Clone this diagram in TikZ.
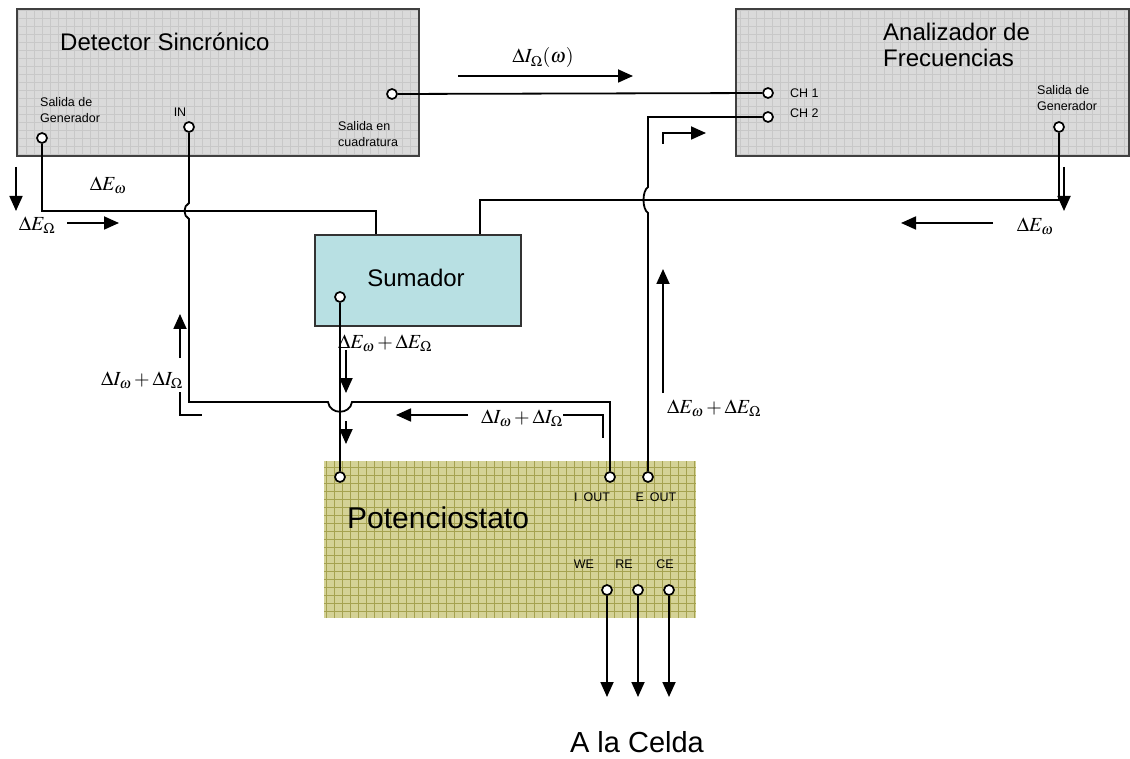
\documentclass[tikz,border=0pt]{standalone}
\usepackage{mathptmx}
\usepackage[no-math]{fontspec}
\setmainfont{Liberation Sans}
\usetikzlibrary{arrows.meta}

\definecolor{grisfondo}{RGB}{218,218,218}
\definecolor{grisreja}{RGB}{200,200,200}
\definecolor{olivafondo}{RGB}{212,210,150}
\definecolor{olivareja}{RGB}{165,162,80}
\definecolor{celeste}{RGB}{184,224,227}

\tikzset{
  equipo/.style={anchor=north west,inner sep=0pt},
  rejilla/.style={path picture={\draw[#1,line width=0.7pt,step=8pt]
      (path picture bounding box.south west) grid (path picture bounding box.north east);}},
  port/.style={circle,draw,fill=white,line width=1.7pt,inner sep=0pt,minimum size=10pt},
  cable/.style={line width=1.8pt},
  flecha/.style={line width=1.8pt,-{Triangle[length=15pt,width=13pt]}},
  rotulo/.style={font=\fontsize{12.5}{16}\selectfont,align=left,inner sep=0pt},
  titulo/.style={font=\fontsize{24}{26}\selectfont,align=left,inner sep=0pt},
  senal/.style={font=\fontsize{20}{22}\selectfont,inner sep=0pt},
}

\begin{document}
\begin{tikzpicture}[x=1pt,y=-1pt]
  \useasboundingbox[fill=white] (0,0) rectangle (1130,759);

  % Equipos
  \node[equipo,fill=grisfondo,rejilla=grisreja,draw=black!75,line width=1.8pt,
        minimum width=402pt,minimum height=147pt] (det) at (16,8) {};
  \node[equipo,fill=grisfondo,rejilla=grisreja,draw=black!75,line width=1.8pt,
        minimum width=393pt,minimum height=147pt] (ana) at (735,8) {};
  \node[equipo,fill=celeste,draw=black!80,line width=1.8pt,
        minimum width=206pt,minimum height=91pt] (sum) at (314,234) {};
  \node[equipo,fill=olivafondo,rejilla=olivareja,
        minimum width=372pt,minimum height=157pt] (pot) at (324,461) {};

  \node[titulo,anchor=west] (detTit) at (60,42) {Detector Sincrónico};
  \node[titulo,anchor=west] (anaTit) at (883,45) {Analizador de\\Frecuencias};
  \node[titulo] (sumTit) at (416,278) {Sumador};
  \node[titulo,font=\fontsize{30}{32}\selectfont,anchor=west] (potTit) at (347,518) {Potenciostato};

  % Bornes
  \node[port] (gen1) at (42,138) {};
  \node[port] (in) at (189,127) {};
  \node[port] (quad) at (392,94) {};
  \node[port] (ch1) at (768,93) {};
  \node[port] (ch2) at (768,117) {};
  \node[port] (gen2) at (1059,127) {};
  \node[port] (sout) at (340,297) {};
  \node[port] (pin) at (340,477) {};
  \node[port] (iout) at (610,477) {};
  \node[port] (eout) at (648,477) {};
  \node[port] (WE) at (607,590) {};
  \node[port] (RE) at (638,590) {};
  \node[port] (CE) at (669,590) {};

  \node[rotulo,anchor=west] (gen1Lab) at (40,110) {Salida de\\Generador};
  \node[rotulo] (inLab) at (180,112) {IN};
  \node[rotulo,anchor=west] (quadLab) at (338,134) {Salida en\\cuadratura};
  \node[rotulo,anchor=west] (ch1Lab) at (790,93) {CH 1};
  \node[rotulo,anchor=west] (ch2Lab) at (790,113) {CH 2};
  \node[rotulo,anchor=west] (gen2Lab) at (1037,98) {Salida de\\Generador};
  \node[rotulo] (ioutLab) at (592,497) {I\hspace{6pt}OUT};
  \node[rotulo] (eoutLab) at (656,497) {E\hspace{6pt}OUT};
  \node[rotulo] (weLab) at (584,564) {WE};
  \node[rotulo] (reLab) at (624,564) {RE};
  \node[rotulo] (ceLab) at (665,564) {CE};

  % Cables
  \coordinate (sinA) at (376,234);
  \coordinate (sinB) at (480,234);
  \draw[cable] (quad) -- (ch1);
  \draw[cable] (gen1) |- (376,211) -- (sinA);
  \draw[cable] (gen2) |- (480,200) -- (sinB);
  \draw[cable] (in) -- (189,203) .. controls (183,206) and (183,216) .. (189,219)
    -- (189,402) -- (328,402) .. controls (330,415) and (350,415) .. (352,402)
    -- (610,402) -- (iout);
  \draw[cable] (sout) -- (pin);
  \draw[cable] (eout) -- (648,213) .. controls (642,209) and (642,191) .. (648,187)
    -- (648,117) -- (ch2);

  \coordinate (celWE) at (607,697);
  \coordinate (celRE) at (638,697);
  \coordinate (celCE) at (669,697);
  \foreach \e in {WE,RE,CE}
    \draw[flecha] (\e.south) -- (cel\e);
  \node[font=\fontsize{29}{30}\selectfont,inner sep=0pt,anchor=base] (celda) at (637,752) {A la Celda};

  % Sentido de las señales
  \draw[flecha] (16,167) -- (16,211);
  \node[senal] (eW1) at (108,185) {$\Delta E_{\omega}$};
  \node[senal] (eO1) at (37,225) {$\Delta E_{\Omega}$};
  \draw[flecha] (67,223) -- (119,223);

  \node[senal] (iOw) at (543,58) {$\Delta I_{\Omega}(\omega)$};
  \draw[flecha] (458,76) -- (633,76);
  \draw[flecha] (663,144) -- (663,133) -- (706,133);

  \draw[flecha] (1064,167) -- (1064,211);
  \draw[flecha] (993,223) -- (901,223);
  \node[senal] (eW2) at (1035,226) {$\Delta E_{\omega}$};

  \node[senal,anchor=west] (eSum) at (338,343) {$\Delta E_{\omega}+\Delta E_{\Omega}$};
  \draw[flecha] (346,350) -- (346,393);
  \draw[flecha] (346,421) -- (346,444);

  \node[senal] (iSum2) at (522,418) {$\Delta I_{\omega}+\Delta I_{\Omega}$};
  \draw[flecha] (468,415) -- (396,415);
  \draw[cable] (563,415) -- (603,415) -- (603,438);

  \draw[flecha] (663,393) -- (663,269);
  \node[senal,anchor=west] (eSum2) at (667,408) {$\Delta E_{\omega}+\Delta E_{\Omega}$};

  \node[senal] (iSum1) at (142,380) {$\Delta I_{\omega}+\Delta I_{\Omega}$};
  \draw[flecha] (180,358) -- (180,314);
  \draw[cable] (180,392) -- (180,415) -- (202,415);
\end{tikzpicture}
\end{document}
